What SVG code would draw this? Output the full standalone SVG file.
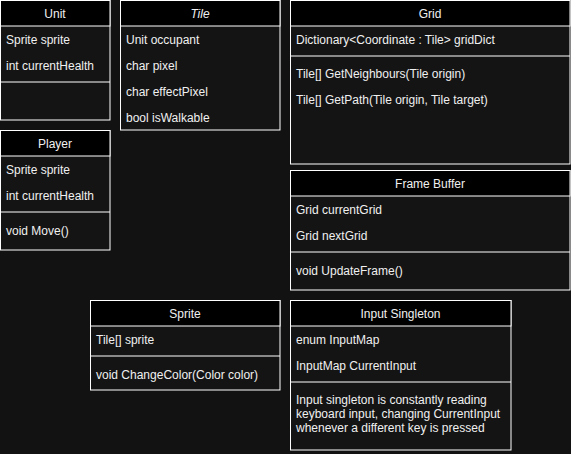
<svg xmlns="http://www.w3.org/2000/svg" width="571" height="454" viewBox="0 0 571 454">
<style>
.bg{fill:#121212}
.box{fill:#141414;stroke:#ffffff;stroke-width:1}
.hd{fill:#000000;stroke:#ffffff;stroke-width:1}
.sep{stroke:#ffffff;stroke-width:1}
text{font-family:"Liberation Sans",Arial,sans-serif;font-size:12px;fill:#f0f0f0}
.c{text-anchor:middle}
</style>
<rect class="bg" x="0" y="0" width="571" height="454"/>
<g id="connectors"></g>
<g id="unit">
<rect class="box" x="0.5" y="0.5" width="109.5" height="119.5"/>
<rect class="hd" x="0.5" y="0.5" width="109.5" height="25.5"/>
<text class="c" x="55" y="17.5">Unit</text>
<text x="6" y="44">Sprite sprite</text>
<text x="6" y="70">int currentHealth</text>
<line class="sep" x1="0.5" y1="82" x2="110" y2="82"/>
</g>
<g id="tile">
<rect class="box" x="120.5" y="0.5" width="159.5" height="129.5"/>
<rect class="hd" x="120.5" y="0.5" width="159.5" height="25.5"/>
<text class="c" x="200" y="17.5" font-style="italic">Tile</text>
<text x="126" y="44">Unit occupant</text>
<text x="126" y="70">char pixel</text>
<text x="126" y="96">char effectPixel</text>
<text x="126" y="122">bool isWalkable</text>
</g>
<g id="grid">
<rect class="box" x="290.5" y="0.5" width="279.5" height="163.5"/>
<rect class="hd" x="290.5" y="0.5" width="279.5" height="25.5"/>
<text class="c" x="430" y="17.5">Grid</text>
<text x="296" y="44">Dictionary&lt;Coordinate : Tile&gt; gridDict</text>
<line class="sep" x1="290.5" y1="56" x2="570" y2="56"/>
<text x="296" y="77.5">Tile[] GetNeighbours(Tile origin)</text>
<text x="296" y="104">Tile[] GetPath(Tile origin, Tile target)</text>
</g>
<g id="player">
<rect class="box" x="0.5" y="130.5" width="109.5" height="119.5"/>
<rect class="hd" x="0.5" y="130.5" width="109.5" height="25.5"/>
<text class="c" x="55" y="147.5">Player</text>
<text x="6" y="173.5">Sprite sprite</text>
<text x="6" y="200">int currentHealth</text>
<line class="sep" x1="0.5" y1="212" x2="110" y2="212"/>
<text x="6" y="235">void Move()</text>
</g>
<g id="framebuffer">
<rect class="box" x="290.5" y="170.5" width="279.5" height="119.5"/>
<rect class="hd" x="290.5" y="170.5" width="279.5" height="25.5"/>
<text class="c" x="430" y="187.5">Frame Buffer</text>
<text x="296" y="213.5">Grid currentGrid</text>
<text x="296" y="240">Grid nextGrid</text>
<line class="sep" x1="290.5" y1="252" x2="570" y2="252"/>
<text x="296" y="275">void UpdateFrame()</text>
</g>
<g id="sprite">
<rect class="box" x="90.5" y="300.5" width="189.5" height="89.5"/>
<rect class="hd" x="90.5" y="300.5" width="189.5" height="25.5"/>
<text class="c" x="185" y="317.5">Sprite</text>
<text x="96" y="343.5">Tile[] sprite</text>
<line class="sep" x1="90.5" y1="356" x2="280" y2="356"/>
<text x="96" y="378.5">void ChangeColor(Color color)</text>
</g>
<g id="inputsingleton">
<rect class="box" x="290.5" y="300.5" width="220.5" height="149.5"/>
<rect class="hd" x="290.5" y="300.5" width="220.5" height="25.5"/>
<text class="c" x="400.5" y="317.5">Input Singleton</text>
<text x="296" y="343.5">enum InputMap</text>
<text x="296" y="370">InputMap CurrentInput</text>
<line class="sep" x1="290.5" y1="382" x2="511" y2="382"/>
<text x="296" y="403.5">Input singleton is constantly reading</text>
<text x="296" y="417.5">keyboard input, changing CurrentInput</text>
<text x="296" y="431.5">whenever a different key is pressed</text>
</g>
</svg>
